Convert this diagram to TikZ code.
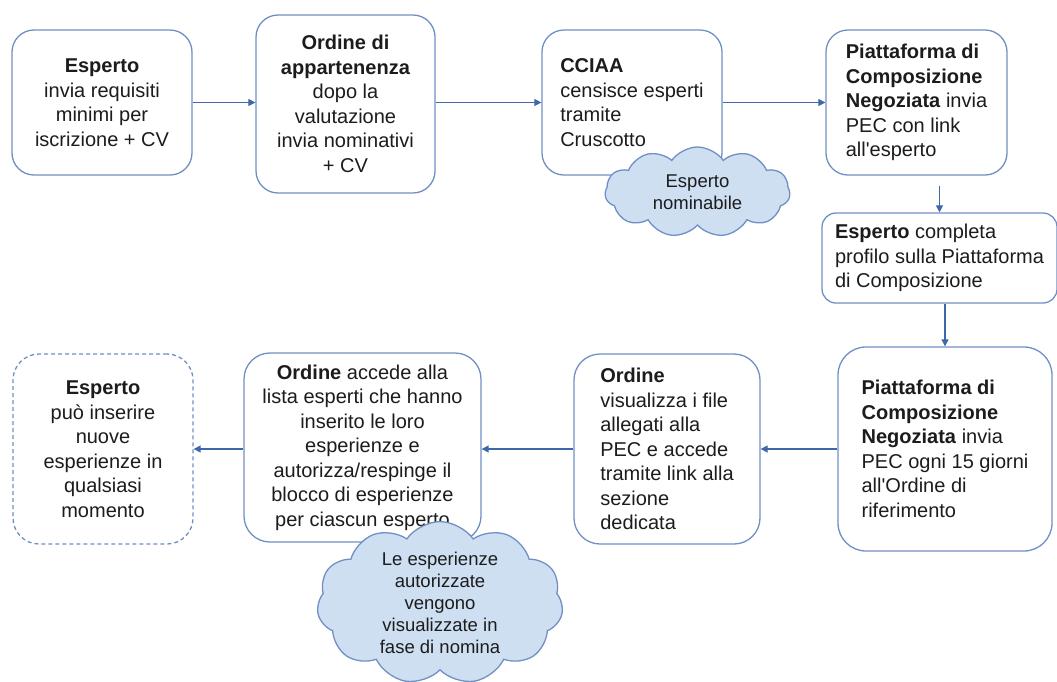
\documentclass[tikz,border=0pt]{standalone}
\usepackage{fontspec}
\setmainfont{Liberation Sans}
\usetikzlibrary{arrows.meta, shapes.symbols}

\definecolor{boxline}{RGB}{112,144,196}
\definecolor{arrline}{RGB}{62,104,170}
\definecolor{cloudfill}{RGB}{206,223,242}
\definecolor{txt}{RGB}{28,28,28}

\begin{document}
\begin{tikzpicture}[x=1pt, y=-1pt,
    stepbox/.style={draw=boxline, line width=1.3pt, rounded corners=22pt, fill=white,
        text=txt, inner sep=0pt, font=\fontsize{20}{24.5}\selectfont},
    dashbox/.style={stepbox, dash pattern=on 4pt off 3pt},
    note/.style={cloud, cloud puffs=11, cloud puff arc=110, cloud ignores aspect,
        draw=boxline, line width=1.3pt, fill=cloudfill, text=txt, inner sep=0pt,
        align=center, font=\fontsize{18.5}{22}\selectfont},
    arr/.style={draw=arrline, line width=1.2pt, -{Triangle[length=7pt,width=7pt]}}
]
\useasboundingbox (0,0) rectangle (1057,681);

% =========================
% top row
% =========================
\node[stepbox, align=center, minimum width=180pt, minimum height=145pt] (esp1) at (102,102.5)
    {\textbf{Esperto}\\invia requisiti\\minimi per\\iscrizione + CV};
\node[stepbox, align=center, minimum width=179pt, minimum height=178pt] (ord1) at (345.5,104)
    {\textbf{Ordine di}\\\textbf{appartenenza}\\dopo la\\valutazione\\invia nominativi\\+ CV};
\node[stepbox, align=left, minimum width=180pt, minimum height=145pt] (cciaa) at (632,102.5)
    {\textbf{CCIAA}\\censisce esperti\\tramite\\Cruscotto};
\node[stepbox, align=left, minimum width=181pt, minimum height=145pt] (piat1) at (916.5,102.5)
    {\textbf{Piattaforma di}\\\textbf{Composizione}\\\textbf{Negoziata} invia\\PEC con link\\all\textquotesingle esperto};

% =========================
% right column
% =========================
\node[stepbox, align=left, rounded corners=14pt, minimum width=235pt, minimum height=90pt] (esp2) at (939.5,258)
    {\textbf{Esperto} completa\\profilo sulla Piattaforma\\di Composizione};
\node[stepbox, align=left, rounded corners=28pt, minimum width=214pt, minimum height=204pt] (piat2) at (945,449)
    {\textbf{Piattaforma di}\\\textbf{Composizione}\\\textbf{Negoziata} invia\\PEC ogni 15 giorni\\all\textquotesingle Ordine di\\riferimento};

% =========================
% bottom row
% =========================
\node[stepbox, align=left, rounded corners=26pt, minimum width=186pt, minimum height=190pt] (ord2) at (667,449)
    {\textbf{Ordine}\\visualizza i file\\allegati alla\\PEC e accede\\tramite link alla\\sezione\\dedicata};
\node[stepbox, align=center, rounded corners=26pt, minimum width=237pt, minimum height=189pt] (ord3) at (362.5,447.5)
    {\textbf{Ordine} accede alla\\lista esperti che hanno\\inserito le loro\\esperienze e\\autorizza/respinge il\\blocco di esperienze\\per ciascun esperto};
\node[dashbox, align=center, rounded corners=26pt, minimum width=180pt, minimum height=190pt] (esp3) at (103,449)
    {\textbf{Esperto}\\può inserire\\nuove\\esperienze in\\qualsiasi\\momento};

% clouds
\node[note, minimum width=185pt, minimum height=90pt] (nomin) at (697.5,192)
    {Esperto\\nominabile};
\node[note, minimum width=246pt, minimum height=150pt] (autor) at (440,603)
    {Le esperienze\\autorizzate\\vengono\\visualizzate in\\fase di nomina};

% =========================
% connectors
% =========================
\draw[arr] (esp1.east) -- (esp1.east -| ord1.west);
\draw[arr] (ord1.east |- esp1.east) -- (esp1.east -| cciaa.west);
\draw[arr] (cciaa.east) -- (piat1.west);
\draw[arr] ([yshift=-10pt]piat1.south -| esp2.north) -- (esp2.north);
\draw[arr] (esp2.south -| piat2.north) -- (piat2.north);
\draw[arr] (piat2.west) -- (ord2.east);
\draw[arr] (ord2.west) -- (ord2.west -| ord3.east);
\draw[arr] (ord3.west |- esp3.east) -- (esp3.east);

\end{tikzpicture}
\end{document}
